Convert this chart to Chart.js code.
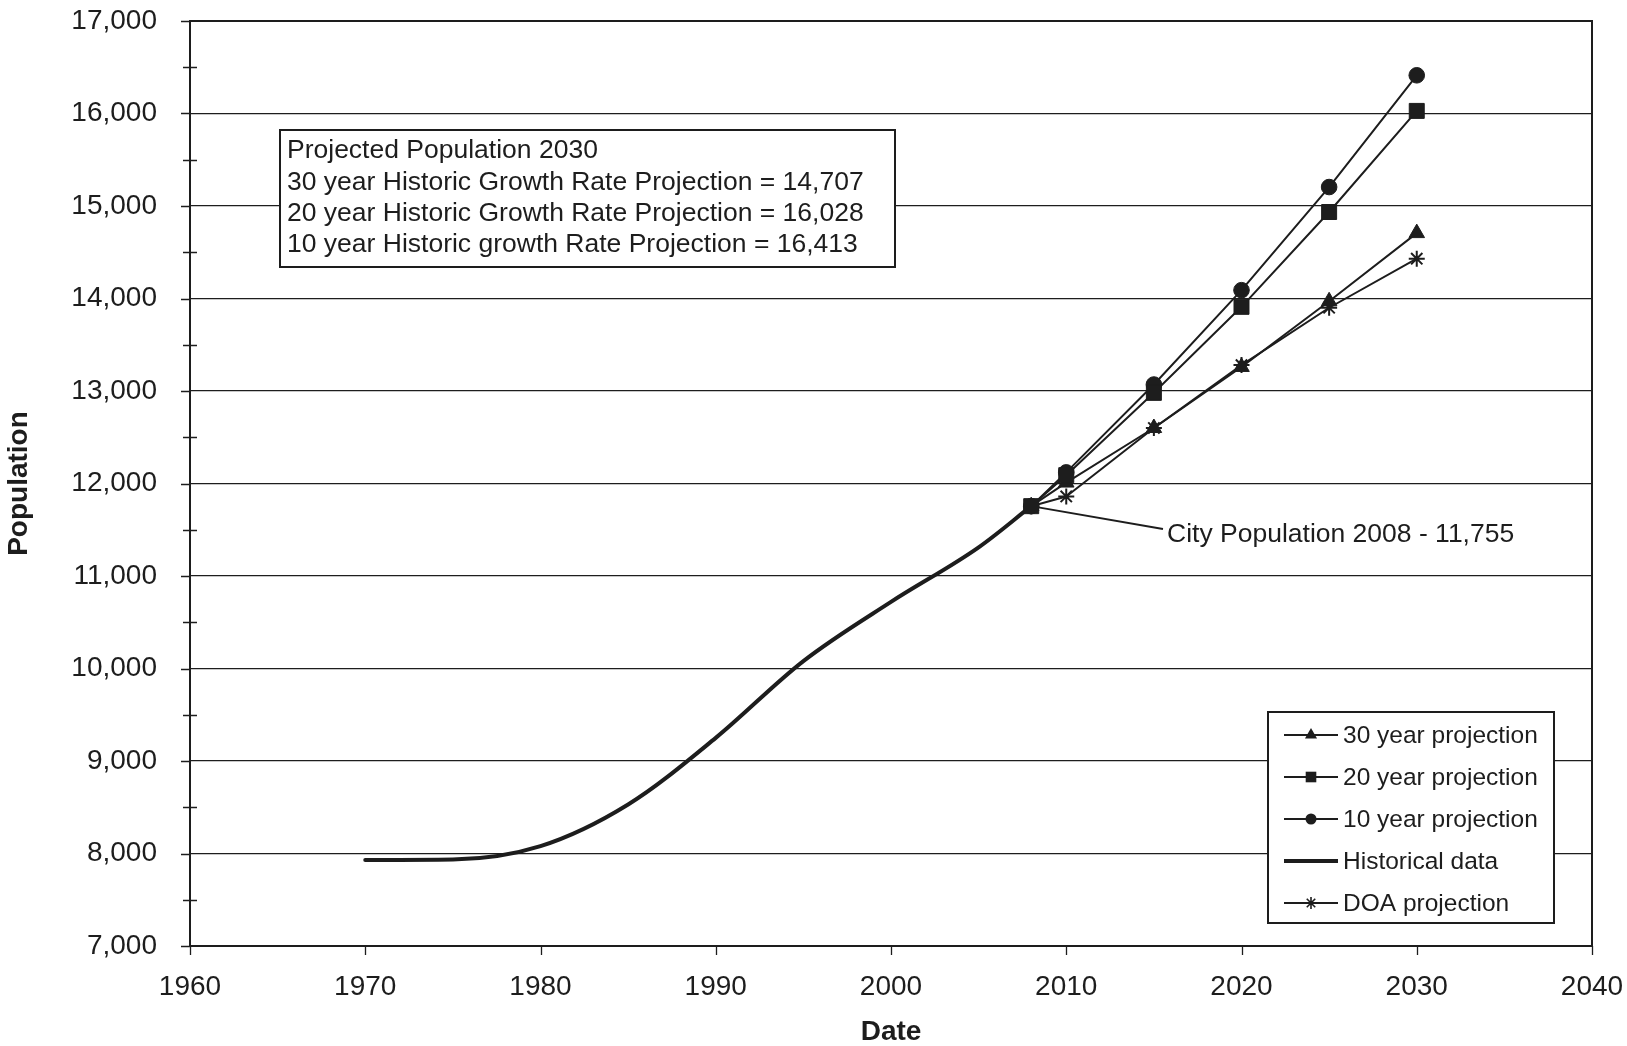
<!DOCTYPE html>
<html>
<head>
<meta charset="utf-8">
<title>Population projection</title>
<script src="https://cdn.jsdelivr.net/npm/chart.js@4.4.0/dist/chart.umd.min.js"></script>
<style>
  html, body { margin: 0; padding: 0; background: #ffffff; }
  canvas { display: block; }
</style>
</head>
<body>
<canvas id="popChart" width="1627" height="1046"></canvas>
<script>
// ---- data ----
const histYears = [1970, 1975, 1980, 1985, 1990, 1995, 2000, 2005, 2008];
const histPop   = [7930, 7935, 8080, 8530, 9250, 10080, 10720, 11310, 11755];

const projYears = [2008, 2010, 2015, 2020, 2025, 2030];
const proj30    = [11755, 12010, 12600, 13260, 13970, 14707];
const proj20    = [11755, 12090, 12980, 13910, 14935, 16028];
const proj10    = [11755, 12120, 13070, 14090, 15205, 16413];
const projDOA   = [11755, 11860, 12600, 13280, 13900, 14430];

const seriesNames = ['30 year projection', '20 year projection', '10 year projection', 'Historical data', 'DOA projection'];

const xRange = [1960, 2040];
const xStep = 10;
const yRange = [7000, 17000];
const yStep = 1000;

const cityYear = 2008;
const cityPop = 11755;

// ---- styling ----
const INK = '#1d1d1d';
const NONE = 'rgba(0,0,0,0)';
const FONT = '"Liberation Sans", Arial, Helvetica, sans-serif';
const fmt = v => Math.round(v).toLocaleString('en-US');
const pts = (xs, ys) => xs.map((x, i) => ({ x: x, y: ys[i] }));
const last = a => a[a.length - 1];

const boxLines = [
  'Projected Population 2030',
  '30 year Historic Growth Rate Projection = ' + fmt(last(proj30)),
  '20 year Historic Growth Rate Projection = ' + fmt(last(proj20)),
  '10 year Historic growth Rate Projection = ' + fmt(last(proj10))
];
const cityLabel = 'City Population ' + cityYear + ' - ' + fmt(cityPop);

function projSet(label, data, style, radius, order) {
  return {
    label: label,
    data: pts(projYears, data),
    borderColor: INK,
    backgroundColor: INK,
    borderWidth: 2,
    pointStyle: style,
    pointRadius: radius,
    pointBackgroundColor: INK,
    pointBorderColor: INK,
    pointBorderWidth: style === 'star' ? 2 : 1,
    tension: 0,
    order: order
  };
}

const datasets = [
  projSet(seriesNames[0], proj30, 'triangle', 9, 2),
  projSet(seriesNames[1], proj20, 'rect', 10.6, 0),
  projSet(seriesNames[2], proj10, 'circle', 7.8, 1),
  {
    label: seriesNames[3],
    data: pts(histYears, histPop),
    borderColor: INK,
    backgroundColor: INK,
    borderWidth: 4,
    pointRadius: 0,
    cubicInterpolationMode: 'monotone',
    borderCapStyle: 'round',
    order: 4
  },
  projSet(seriesNames[4], projDOA, 'star', 8, 3)
];

// marker glyphs for the legend
function drawMarker(ctx, style, x, y, r) {
  ctx.save();
  ctx.fillStyle = INK;
  ctx.strokeStyle = INK;
  ctx.lineWidth = 1.6;
  ctx.beginPath();
  if (style === 'circle') {
    ctx.arc(x, y, r, 0, Math.PI * 2);
    ctx.fill();
  } else if (style === 'rect') {
    const s = r * Math.SQRT1_2;
    ctx.rect(x - s, y - s, 2 * s, 2 * s);
    ctx.fill();
  } else if (style === 'triangle') {
    for (let k = 0; k < 3; k++) {
      const a = k * 2 * Math.PI / 3;
      const px = x + Math.sin(a) * r, py = y - Math.cos(a) * r;
      if (k === 0) ctx.moveTo(px, py); else ctx.lineTo(px, py);
    }
    ctx.closePath();
    ctx.fill();
  } else if (style === 'star') {
    for (let k = 0; k < 4; k++) {
      const a = k * Math.PI / 4;
      ctx.moveTo(x - Math.cos(a) * r, y - Math.sin(a) * r);
      ctx.lineTo(x + Math.cos(a) * r, y + Math.sin(a) * r);
    }
    ctx.stroke();
  }
  ctx.restore();
}

// frame, tick marks and the leader line under the series
const underlay = {
  id: 'underlay',
  beforeDatasetsDraw(chart) {
    const { ctx, chartArea: a, scales } = chart;
    ctx.save();
    ctx.strokeStyle = INK;
    ctx.lineWidth = 2;
    ctx.strokeRect(a.left, a.top, a.right - a.left, a.bottom - a.top);

    ctx.lineWidth = 1.3;
    ctx.beginPath();
    // major ticks, pointing out of the plot
    for (let v = yRange[0]; v <= yRange[1]; v += yStep) {
      const py = Math.round(scales.y.getPixelForValue(v)) + 0.5;
      ctx.moveTo(a.left - 9, py);
      ctx.lineTo(a.left, py);
    }
    for (let v = xRange[0]; v <= xRange[1]; v += xStep) {
      const px = Math.round(scales.x.getPixelForValue(v)) + 0.5;
      ctx.moveTo(px, a.bottom);
      ctx.lineTo(px, a.bottom + 9);
    }
    // half-step ticks across the value axis
    for (let v = yRange[0] + yStep / 2; v < yRange[1]; v += yStep) {
      const py = Math.round(scales.y.getPixelForValue(v)) + 0.5;
      ctx.moveTo(a.left - 7, py);
      ctx.lineTo(a.left + 7, py);
    }
    ctx.stroke();

    // leader from the 2008 point to its label
    const opts = chart.options.plugins.notes;
    const px = scales.x.getPixelForValue(cityYear);
    const py = scales.y.getPixelForValue(cityPop);
    ctx.lineWidth = 1.8;
    ctx.beginPath();
    ctx.moveTo(px, py);
    ctx.lineTo(opts.cityX - 4, opts.cityY - 6);
    ctx.stroke();
    ctx.restore();
  }
};

// text box, city label and legend on top
const notes = {
  id: 'notes',
  afterDatasetsDraw(chart, args, o) {
    const ctx = chart.ctx;
    ctx.save();

    // projection summary box
    const b = o.box;
    ctx.fillStyle = '#ffffff';
    ctx.fillRect(b.left, b.top, b.right - b.left, b.bottom - b.top);
    ctx.strokeStyle = INK;
    ctx.lineWidth = 2;
    ctx.strokeRect(b.left, b.top, b.right - b.left, b.bottom - b.top);
    ctx.fillStyle = INK;
    ctx.font = '26.5px ' + FONT;
    ctx.textAlign = 'left';
    ctx.textBaseline = 'middle';
    boxLines.forEach((t, i) => ctx.fillText(t, b.left + 7, b.top + 21 + i * 31.3));

    // city label
    ctx.font = '26.5px ' + FONT;
    ctx.fillText(cityLabel, o.cityX, o.cityY);

    // legend
    const L = o.legend;
    ctx.fillStyle = '#ffffff';
    ctx.fillRect(L.left, L.top, L.right - L.left, L.bottom - L.top);
    ctx.strokeStyle = INK;
    ctx.lineWidth = 2;
    ctx.strokeRect(L.left, L.top, L.right - L.left, L.bottom - L.top);
    ctx.font = '24.5px ' + FONT;
    chart.data.datasets.forEach((ds, i) => {
      const y = L.top + 23 + i * 42;
      ctx.strokeStyle = INK;
      ctx.lineWidth = ds.pointRadius ? 2 : 4;
      ctx.beginPath();
      ctx.moveTo(L.left + 16, y);
      ctx.lineTo(L.left + 70, y);
      ctx.stroke();
      if (ds.pointRadius) {
        const legendR = { triangle: 7, rect: 7.5, circle: 5.5, star: 6 }[ds.pointStyle];
        drawMarker(ctx, ds.pointStyle, L.left + 43, y, legendR);
      }
      ctx.fillStyle = INK;
      ctx.fillText(ds.label, L.left + 75, y + 1);
    });
    ctx.restore();
  }
};

new Chart(document.getElementById('popChart'), {
  type: 'line',
  data: { datasets: datasets },
  plugins: [underlay, notes],
  options: {
    responsive: false,
    animation: false,
    events: [],
    layout: { padding: { top: 21, right: 35, bottom: 0, left: 0 } },
    elements: { line: { borderJoinStyle: 'round' } },
    plugins: {
      legend: { display: false },
      tooltip: { enabled: false },
      notes: {
        box: { left: 280, top: 130, right: 895, bottom: 267 },
        legend: { left: 1268, top: 712, right: 1554, bottom: 923 },
        cityX: 1167,
        cityY: 535
      }
    },
    scales: {
      x: {
        type: 'linear',
        min: xRange[0],
        max: xRange[1],
        ticks: {
          stepSize: xStep,
          color: INK,
          font: { family: FONT, size: 28 },
          padding: 0,
          maxRotation: 0,
          callback: v => String(v)
        },
        // tick length reserves the gap above the labels; marks are drawn by the plugin
        grid: { drawOnChartArea: false, drawTicks: true, tickLength: 24, color: INK, tickColor: NONE, lineWidth: 1.3 },
        border: { display: true, color: INK, width: 2 },
        title: {
          display: true,
          text: 'Date',
          color: INK,
          font: { family: FONT, size: 28, weight: 'bold', lineHeight: 1 },
          padding: { top: 0, bottom: 0 }
        },
        afterFit: s => { s.height = 100; }
      },
      y: {
        type: 'linear',
        min: yRange[0],
        max: yRange[1],
        ticks: {
          stepSize: yStep,
          color: INK,
          font: { family: FONT, size: 28 },
          padding: 0,
          callback: v => fmt(v)
        },
        grid: { color: INK, lineWidth: 1.3, drawTicks: true, tickLength: 33, tickColor: NONE },
        border: { display: true, color: INK, width: 2 },
        title: {
          display: true,
          text: 'Population',
          color: INK,
          font: { family: FONT, size: 28, weight: 'bold', lineHeight: 1 },
          padding: { top: 5, bottom: 0 }
        },
        afterFit: s => { s.width = 190; }
      }
    }
  }
});
</script>
</body>
</html>
